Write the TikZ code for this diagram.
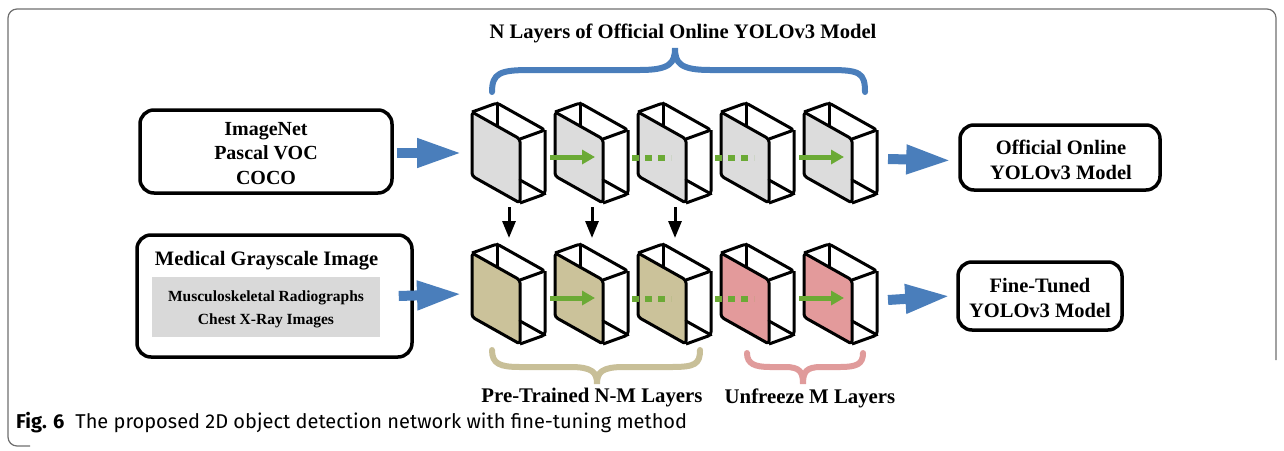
\documentclass[tikz,border=0pt]{standalone}
\usepackage{fontspec}
\setmainfont{Liberation Serif}
\newfontfamily\capfont{Fira Sans}
\usetikzlibrary{arrows.meta}
\definecolor{facegray}{RGB}{220,220,220}
\definecolor{facetan}{RGB}{203,194,154}
\definecolor{facepink}{RGB}{227,154,155}
\definecolor{bracetan}{RGB}{200,191,152}
\definecolor{bracepink}{RGB}{224,155,155}
\definecolor{myblue}{RGB}{74,126,187}
\definecolor{mygreen}{RGB}{107,170,53}
\definecolor{innergray}{RGB}{217,217,217}
\definecolor{framegray}{RGB}{110,110,110}
\tikzset{
  boxline/.style={line width=3pt, line join=round, rounded corners=3pt},
  roundbox/.style={draw, line width=3.5pt, rounded corners=14pt, inner sep=0pt},
  bluearr/.style={draw=myblue, line width=10pt, -{Triangle[length=45pt,width=27pt]}},
  greenarr/.style={draw=mygreen, line width=5pt, -{Triangle[length=13pt,width=14pt]}},
  greendash/.style={draw=mygreen, line width=6pt, dash pattern=on 7pt off 6pt},
  downarr/.style={draw=black, line width=3pt, -{Triangle[length=17pt,width=13pt]}},
  bracestyle/.style={line width=6pt, line cap=round},
  lbl/.style={font=\fontsize{20}{24.5}\selectfont\bfseries, align=center, inner sep=0pt},
}
\newcommand\layerbox[4]{%
\begin{scope}[shift={(#1,#2)}]
  \filldraw[boxline, fill=#3] (0,0) -- (48,27) -- (48,91) -- (0,64) -- cycle;
  \draw[boxline] (0,0) -- (25,-9) -- (73,18) -- (48,27);
  \draw[boxline] (73,18) -- (73,82) -- (48,91);
  \draw[line width=3pt, line cap=round] (25,-9) -- (25,14);
  \draw[line width=3pt, line cap=round] (48,68) -- (73,82);
  \coordinate (#4-a) at (-5,45);
  \coordinate (#4-b) at (40,45);
  \coordinate (#4-d) at (-6,46);
  \coordinate (#4-e) at (33,46);
  \coordinate (#4-bot) at (37,95);
  \coordinate (#4-top) at (37,-15);
  \coordinate (#4-left) at (-10,41);
  \coordinate (#4-right) at (84,47);
\end{scope}}
\begin{document}
\begin{tikzpicture}[x=1pt,y=-1pt]
\useasboundingbox (0,0) rectangle (1284,450);
% frame
\draw[framegray, line width=1.2pt, rounded corners=9pt] (30,446) -- (8,446) -- (8,9) -- (1276,9) -- (1276,360);
% input boxes
\node[roundbox, minimum width=252pt, minimum height=83pt] (in1) at (266,151.5) {};
\node[lbl] (in1t) at (266,153.5) {ImageNet\\Pascal VOC\\COCO};
\node[roundbox, minimum width=275pt, minimum height=122pt] (in2) at (274.5,296) {};
\node[lbl, font=\fontsize{20.5}{24}\selectfont\bfseries] (in2t) at (266.5,261) {Medical Grayscale Image};
\node[fill=innergray, minimum width=228pt, minimum height=60pt, inner sep=0pt] (in2g) at (266,307) {};
\node[lbl, font=\fontsize{15.5}{23}\selectfont\bfseries] (in2s) at (266,309) {Musculoskeletal Radiographs\\Chest X-Ray Images};
% output boxes
\node[roundbox, minimum width=200pt, minimum height=65pt] (out1) at (1060,157.5) {};
\node[lbl, font=\fontsize{20.5}{25}\selectfont\bfseries] (out1t) at (1061,160) {Official Online\\YOLOv3 Model};
\node[roundbox, minimum width=164pt, minimum height=68pt] (out2) at (1040,296) {};
\node[lbl, font=\fontsize{20.5}{25}\selectfont\bfseries] (out2t) at (1040,298) {Fine-Tuned\\YOLOv3 Model};
% layer boxes
\layerbox{472}{112}{facegray}{t1}
\layerbox{555}{112}{facegray}{t2}
\layerbox{638}{112}{facegray}{t3}
\layerbox{721}{112}{facegray}{t4}
\layerbox{804}{112}{facegray}{t5}
\layerbox{472}{253}{facetan}{b1}
\layerbox{555}{253}{facetan}{b2}
\layerbox{638}{253}{facetan}{b3}
\layerbox{721}{253}{facepink}{b4}
\layerbox{804}{253}{facepink}{b5}
% green connectors
\draw[greenarr] (t2-a) -- (t2-b);
\draw[greendash] (t3-d) -- (t3-e);
\draw[greendash] (t4-d) -- (t4-e);
\draw[greenarr] (t5-a) -- (t5-b);
\draw[greenarr] (b2-a) -- (b2-b);
\draw[greendash] (b3-d) -- (b3-e);
\draw[greendash] (b4-d) -- (b4-e);
\draw[greenarr] (b5-a) -- (b5-b);
% down arrows
\draw[downarr] (t1-bot) -- (b1-top);
\draw[downarr] (t2-bot) -- (b2-top);
\draw[downarr] (t3-bot) -- (b3-top);
% blue arrows
\draw[bluearr] ([xshift=3pt,yshift=-1.5pt]in1.east) -- (t1-left);
\draw[bluearr] ([xshift=-15pt]in2.east) -- (b1-left);
\draw[bluearr] (t5-right) -- ([xshift=-7pt,yshift=-3pt]out1.west);
\draw[bluearr] (b5-right) -- ([xshift=-6pt]out2.west);
% braces
\draw[bracestyle, myblue] (492,92) .. controls (492,73) and (500,70) .. (530,70) -- (640,70) .. controls (670,70) and (675,63) .. (675,48) .. controls (675,63) and (680,70) .. (710,70) -- (830,70) .. controls (860,70) and (865,73) .. (865,92);
\draw[bracestyle, bracetan] (492,350) .. controls (492,364) and (500,367) .. (520,367) -- (570,367) .. controls (592,367) and (597,372) .. (597,384) .. controls (597,372) and (602,367) .. (624,367) -- (672,367) .. controls (695,367) and (700,364) .. (700,350);
\draw[bracestyle, bracepink] (747,353) .. controls (747,364) and (755,367) .. (770,367) -- (785,367) .. controls (800,367) and (803,372) .. (803,384) .. controls (803,372) and (806,367) .. (821,367) -- (840,367) .. controls (857,367) and (863,364) .. (863,353);
% labels
\node[lbl, font=\fontsize{20.6}{24.5}\selectfont\bfseries] (toplbl) at (683,33) {N Layers of Official Online YOLOv3 Model};
\node[lbl, font=\fontsize{20.8}{24.5}\selectfont\bfseries] (ptlbl) at (592,398) {Pre-Trained N-M Layers};
\node[lbl, font=\fontsize{20.8}{24.5}\selectfont\bfseries] (uflbl) at (810,398) {Unfreeze M Layers};
% caption
\node[anchor=west, inner sep=0pt, font=\capfont\fontsize{20}{24}\selectfont] (cap) at (16,423) {\textbf{Fig. 6}\hspace{0.55em}The proposed 2D object detection network with fine-tuning method};
\end{tikzpicture}
\end{document}
